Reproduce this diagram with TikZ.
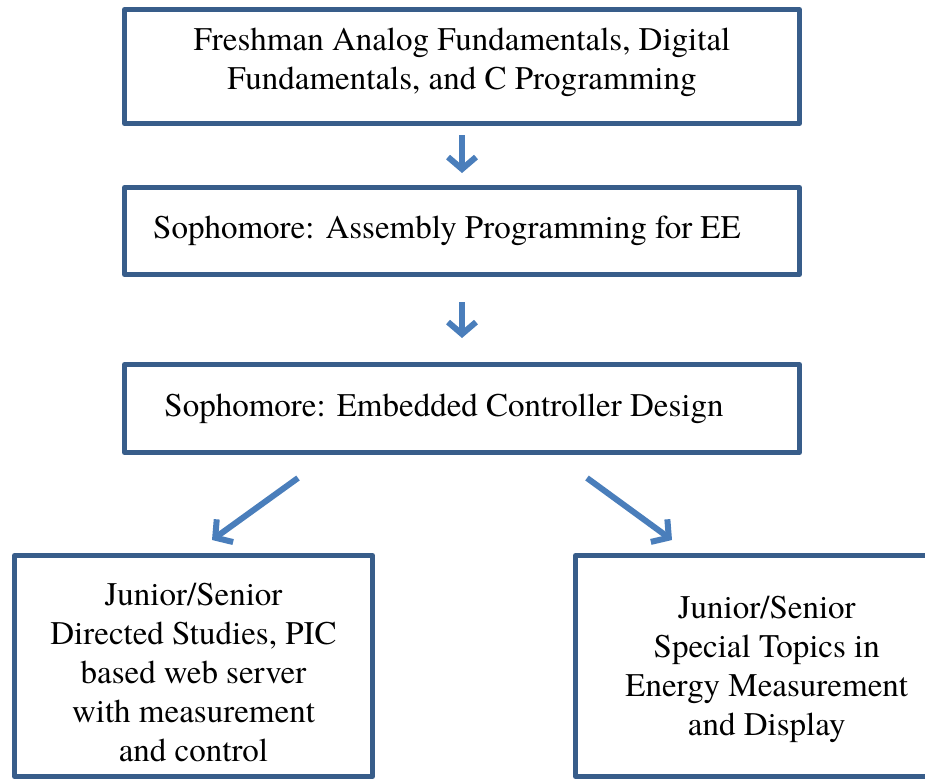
\documentclass[tikz,border=0pt]{standalone}
\usepackage{fontspec}
\setmainfont{texgyretermes}[Extension=.otf, UprightFont=*-regular, BoldFont=*-bold]
\usetikzlibrary{arrows.meta}
\definecolor{boxline}{HTML}{385D8A}
\definecolor{arrowblue}{HTML}{4A7EBB}

\begin{document}
\begin{tikzpicture}[>={Straight Barb[length=12pt,width=28pt]},
  main node/.style={rectangle, draw=boxline, line width=5pt, line join=round, align=center, minimum width=675pt},
  flow/.style={->, draw=arrowblue, line width=6pt}]
        \tikzstyle{every node}=[font=\fontsize{33}{39}\selectfont]
        \useasboundingbox (0,0) rectangle (925pt,-781pt);
        \clip (0,0) rectangle (925pt,-781pt);

          \node[main node, minimum height=114pt, text depth=16pt] (1) at (462pt,-66.5pt) {Freshman Analog Fundamentals, Digital\\Fundamentals, and C Programming};
          \node[main node, minimum height=87pt, node distance=164.5pt] (2) [below of=1] {Sophomore: Assembly Programming for EE\hspace*{30pt}};
          \node[main node, minimum height=88pt, node distance=177.5pt] (3) [below of=2] {Sophomore: Embedded Controller Design\hspace*{36pt}};
          \node[main node, minimum width=358pt, minimum height=221pt, text height=191pt, node distance=257.5pt, xshift=-268.5pt] (4) [below of=3] {Junior/Senior\\Directed Studies, PIC\\based web server\\with measurement\\and control};
          \node[main node, minimum width=382.5pt, minimum height=221pt, text height=147pt, node distance=257.5pt, xshift=304.75pt] (5) [below of=3] {Junior/Senior\\Special Topics in\\Energy Measurement\\and Display};

          \coordinate (3l) at ([xshift=-164pt, yshift=-23pt]3.south);
          \coordinate (3r) at ([xshift=125pt, yshift=-23pt]3.south);
          \coordinate (4t) at ([xshift=18.5pt, yshift=13pt]4.north);
          \coordinate (5t) at ([xshift=-94.75pt, yshift=13pt]5.north);

          \path
            (1) edge[flow, shorten <=9pt, shorten >=12pt] (2)
            (2) edge[flow, shorten <=25pt, shorten >=24pt] (3)
            (3l) edge[flow] (4t)
            (3r) edge[flow] (5t);

        \end{tikzpicture}
\end{document}
